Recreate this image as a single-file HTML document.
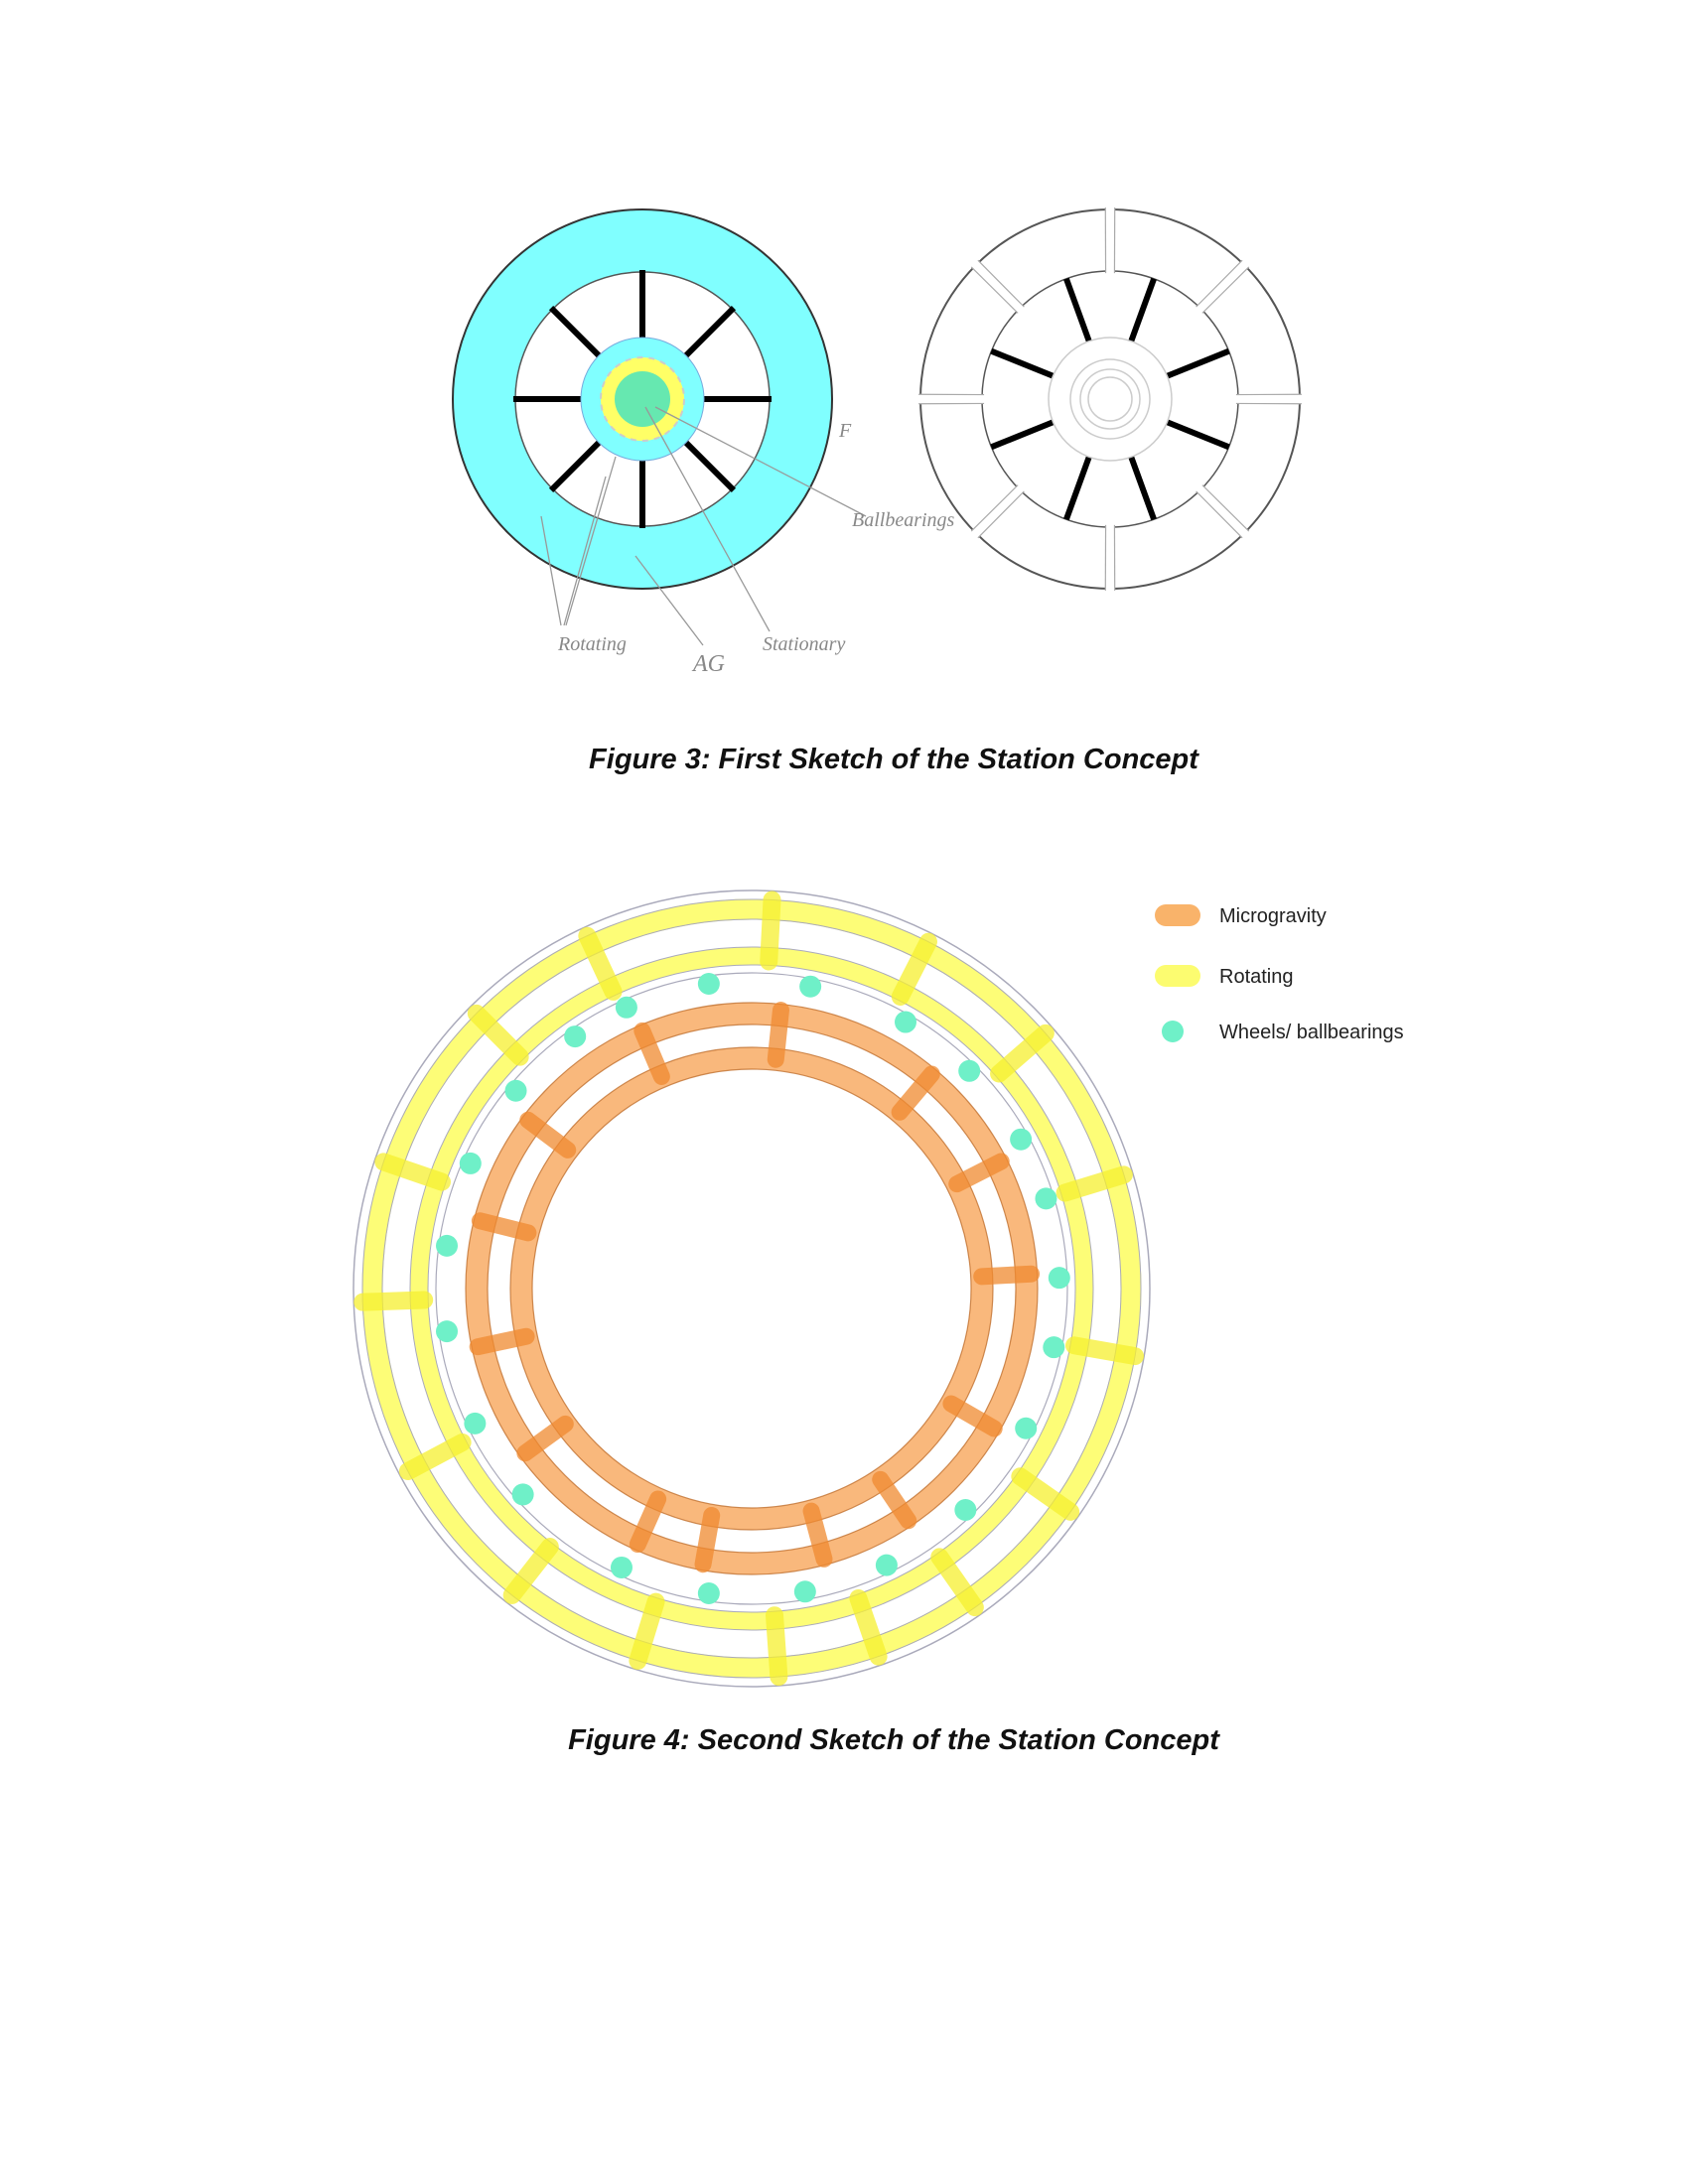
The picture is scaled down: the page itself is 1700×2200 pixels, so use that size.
<!DOCTYPE html>
<html><head><meta charset="utf-8"><style>
html,body{margin:0;padding:0;background:#fff;}
body{width:1700px;height:2200px;position:relative;overflow:hidden;font-family:"Liberation Sans",sans-serif;}
.cap{position:absolute;left:10px;width:1780px;text-align:center;font-weight:bold;font-style:italic;font-size:29px;color:#111;}
</style></head><body>
<svg id="fig3" width="1700" height="720" style="position:absolute;left:0;top:0">
  <g id="left-wheel">
    <circle cx="647" cy="402" r="191" fill="#80ffff" stroke="#333" stroke-width="2"/>
    <circle cx="647" cy="402" r="128" fill="#fff" stroke="#555" stroke-width="1.5"/>
    <g id="ls"></g>
    <circle cx="647" cy="402" r="62" fill="#80ffff" stroke="#7ad" stroke-width="1"/>
    <circle cx="647" cy="402" r="42" fill="#ffff66" stroke="#ccc" stroke-dasharray="6 6" stroke-width="2"/>
    <circle cx="647" cy="402" r="28" fill="#66e8b0"/>
  </g>
  <g id="right-wheel">
    <circle cx="1118" cy="402" r="191" fill="#fff" stroke="#555" stroke-width="2"/>
    <circle cx="1118" cy="402" r="129" fill="#fff" stroke="#555" stroke-width="1.5"/>
    <g id="gaps"></g>
    <g id="rs"></g>
    <circle cx="1118" cy="402" r="62" fill="#fff" stroke="#ccc" stroke-width="1.5"/>
    <circle cx="1118" cy="402" r="40" fill="none" stroke="#ccc" stroke-width="1.5"/>
    <circle cx="1118" cy="402" r="30" fill="none" stroke="#ccc" stroke-width="1.5"/>
    <circle cx="1118" cy="402" r="22" fill="none" stroke="#ccc" stroke-width="1.5"/>
  </g>
  <g stroke="#999" stroke-width="1.3" fill="none">
    <line x1="660" y1="410" x2="872" y2="520"/>
    <line x1="650" y1="410" x2="775" y2="636"/>
    <line x1="620" y1="460" x2="570" y2="630"/>
    <line x1="545" y1="520" x2="565" y2="630"/>
    <line x1="610" y1="480" x2="568" y2="630"/>
    <line x1="640" y1="560" x2="708" y2="650"/>
  </g>
  <g font-family="Liberation Serif,serif" font-size="20" fill="#888" font-style="italic">
    <text x="858" y="530">Ballbearings</text>
    <text x="845" y="440">F</text>
    <text x="562" y="655">Rotating</text>
    <text x="698" y="676" font-size="24">AG</text>
    <text x="768" y="655">Stationary</text>
  </g>
</svg>
<div class="cap" style="top:749px">Figure 3: First Sketch of the Station Concept</div>

<svg id="fig4" width="1700" height="900" style="position:absolute;left:0;top:850px">
  <g id="f4" transform="translate(757,448)"></g>
  <g font-family="Liberation Sans,sans-serif" font-size="20" fill="#222">
    <rect x="1163" y="61" width="46" height="22" rx="11" fill="#f9b36a"/>
    <text x="1228" y="79">Microgravity</text>
    <rect x="1163" y="122" width="46" height="22" rx="11" fill="#fcfc70"/>
    <text x="1228" y="140">Rotating</text>
    <circle cx="1181" cy="189" r="11" fill="#6ff0c8"/>
    <text x="1228" y="196">Wheels/ ballbearings</text>
  </g>
</svg>
<div class="cap" style="top:1737px">Figure 4: Second Sketch of the Station Concept</div>

<script>
const leftSpokeAngles=[0,45,90,135,180,225,270,315];
const rightSpokeAngles=[22,70,110,158,202,250,290,338];
const segmentGapAngles=[0,45,90,135,180,225,270,315];
const orangeSpokeAngles=[-113,-84,-50,-27,-3,30,56,75,100,114,144,168,194,217];
const yellowSpokeAngles=[-87,-63,-41,-17,10,35,55,71,86,107,128,152,178,199,225,245];
const wheelAngles=[-98,-79,-60,-45,-29,-17,-2,11,27,46,64,80,98,115,138,154,172,188,204,220,235,246];
const NS='http://www.w3.org/2000/svg';
function pt(cx,cy,r,a){const t=a*Math.PI/180;return [cx+r*Math.cos(t),cy+r*Math.sin(t)];}
function line(g,p,q,col,w,cap){const l=document.createElementNS(NS,'line');l.setAttribute('x1',p[0]);l.setAttribute('y1',p[1]);l.setAttribute('x2',q[0]);l.setAttribute('y2',q[1]);l.setAttribute('stroke',col);l.setAttribute('stroke-width',w);l.setAttribute('stroke-linecap',cap||'butt');g.appendChild(l);return l;}
function circ(g,cx,cy,r,fill,stroke,sw,op){const c=document.createElementNS(NS,'circle');c.setAttribute('cx',cx);c.setAttribute('cy',cy);c.setAttribute('r',r);c.setAttribute('fill',fill);if(stroke){c.setAttribute('stroke',stroke);c.setAttribute('stroke-width',sw);}if(op)c.setAttribute('opacity',op);g.appendChild(c);return c;}
const ls=document.getElementById('ls');
leftSpokeAngles.forEach(a=>{const l=line(ls,pt(647,402,60,a),pt(647,402,130,a),'#000',6);

});
const rs=document.getElementById('rs');
rightSpokeAngles.forEach(a=>{const l=line(rs,pt(1118,402,62,a),pt(1118,402,129,a),'#000',6);

});
const gp=document.getElementById('gaps');
segmentGapAngles.forEach(a=>{const l=line(gp,pt(1118,402,126,a),pt(1118,402,194,a),'#fff',9);


line(gp,pt(1118,402,127,a-2),pt(1118,402,193,a-1.4),'#aaa',1.2);line(gp,pt(1118,402,127,a+2),pt(1118,402,193,a+1.4),'#aaa',1.2);});
const g=document.getElementById('f4');
circ(g,0,0,401,'none','#aab','1.5');
circ(g,0,0,382,'none','#fcfc55',21,0.8);
circ(g,0,0,335,'none','#fcfc55',18,0.8);
circ(g,0,0,392,'none','#aab',1);circ(g,0,0,372,'none','#aab',1);
circ(g,0,0,344,'none','#aab',1);circ(g,0,0,326,'none','#aab',1);
circ(g,0,0,318,'none','#aab',1.2);
yellowSpokeAngles.forEach(a=>{const l=line(g,pt(0,0,330,a),pt(0,0,392,a),'#f6f030',18,'round');l.setAttribute('opacity','0.75');

});
wheelAngles.forEach(a=>{const p=pt(0,0,310,a);const c=circ(g,p[0],p[1],11,'#6ff0c8');

});
circ(g,0,0,277,'none','#f7a050',22,0.75);
circ(g,0,0,232,'none','#f7a050',22,0.75);
[288,266,243,221].forEach(r=>circ(g,0,0,r,'none','#c07030',1.2,0.8));
orangeSpokeAngles.forEach(a=>{const l=line(g,pt(0,0,232,a),pt(0,0,282,a),'#f08a30',17,'round');l.setAttribute('opacity','0.75');

});
</script>
</body></html>
